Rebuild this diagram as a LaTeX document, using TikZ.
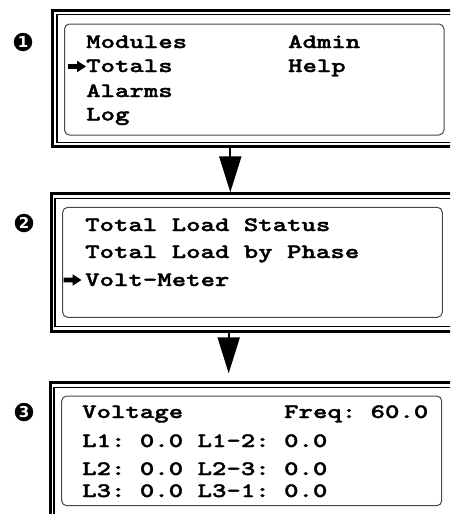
\documentclass[tikz,border=0pt]{standalone}
\usepackage{fontspec}
\usetikzlibrary{arrows.meta}
\newfontfamily\lcdfont{lmmonolt10-bold.otf}[FakeStretch=1.34,FakeBold=1.6]
\newfontfamily\numfont{DejaVu Sans Bold}
\tikzset{
  lcd/.style={anchor=base west, inner sep=0pt, font=\lcdfont\fontsize{20.5}{20.5}\selectfont},
  thickframe/.style={line width=3pt, draw=black},
  thinframe/.style={line width=1.2pt, draw=black},
  screen/.style={line width=1pt, draw=black!72, rounded corners=5pt},
  stepnum/.style={circle, fill=black, text=white, minimum size=18.5pt, inner sep=0pt, font=\numfont\fontsize{15}{15}\selectfont},
  flow/.style={line width=2pt, -{Triangle[width=22pt,length=36pt]}},
  ptr/.pic={\fill[black] (0,-2.3) -- (9,-2.3) -- (9,-5.8) -- (18,0) -- (9,5.8) -- (9,2.3) -- (0,2.3) -- cycle;}
}
\begin{document}
\begin{tikzpicture}[x=1pt,y=-1pt]
\useasboundingbox (0,0) rectangle (450,514);
\clip (0,0) rectangle (450,514);

% ---- screen 1
\draw[thickframe] (470,10.5) -- (52.3,10.5) -- (52.3,146.7) -- (470,146.7);
\draw[thinframe] (470,14.2) -- (57,14.2) -- (57,142.7) -- (470,142.7);
\draw[screen] (64.5,24) rectangle (444,135);
\node[stepnum] (n1) at (23,42) {1};
\node[lcd] (t11) at (86,48) {Modules~~~~~~~Admin};
\node[lcd] (t12) at (86,72) {Totals~~~~~~~~Help};
\node[lcd] (t13) at (86,97) {Alarms};
\node[lcd] (t14) at (86,120.5) {Log};
\pic at (68,66.5) {ptr};

% ---- screen 2
\draw[thickframe] (470,193.8) -- (51.3,193.8) -- (51.3,331) -- (470,331);
\draw[thinframe] (470,198.3) -- (55,198.3) -- (55,326.3) -- (470,326.3);
\draw[screen] (62.7,207.3) rectangle (442.3,317.3);
\node[stepnum] (n2) at (24,223) {2};
\node[lcd] (t21) at (85,231) {Total~Load~Status};
\node[lcd] (t22) at (85,258) {Total~Load~by~Phase};
\node[lcd] (t23) at (85,286) {Volt-Meter};
\pic at (63.5,280) {ptr};

% ---- screen 3
\draw[thickframe] (470,382.3) -- (50.5,382.3) -- (50.5,540) -- (470,540);
\draw[thinframe] (470,387.3) -- (54,387.3) -- (54,535) -- (470,535);
\draw[screen] (61.7,396) rectangle (441.7,505.7);
\node[stepnum] (n3) at (24,412) {3};
\node[lcd] (t31) at (82,418) {Voltage~~~~~~~Freq:~60.0};
\node[lcd] (t32) at (82,447) {L1:~0.0~L1-2:~0.0};
\node[lcd] (t33) at (82,475) {L2:~0.0~L2-3:~0.0};
\node[lcd] (t34) at (82,497) {L3:~0.0~L3-1:~0.0};

% ---- connectors
\coordinate (f1b) at (230.3,148);
\coordinate (f2t) at (230.3,192.3);
\coordinate (f2b) at (228.7,332.5);
\coordinate (f3t) at (228.7,373.3);
\draw[flow] (f1b) -- (f2t);
\draw[flow] (f2b) -- (f3t);
\end{tikzpicture}
\end{document}
